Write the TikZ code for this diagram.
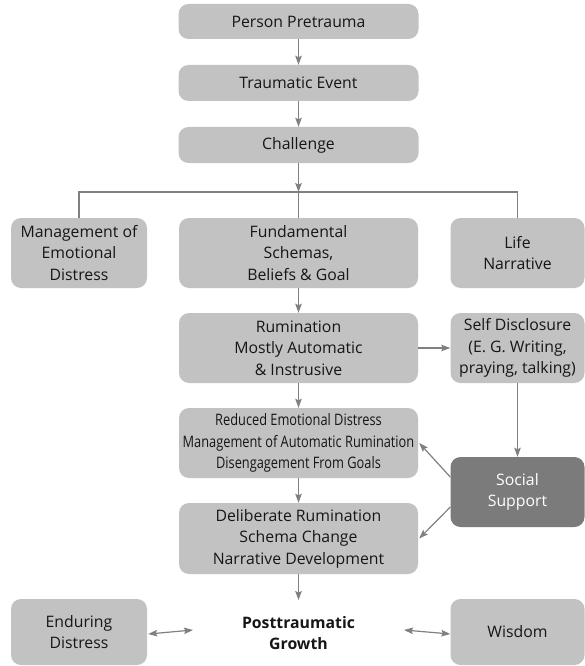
\documentclass[tikz,border=0pt]{standalone}
\usepackage{fontspec}
\setmainfont{Open Sans}
\usetikzlibrary{arrows.meta}
\definecolor{boxgray}{HTML}{C2C2C2}
\definecolor{darkbox}{HTML}{7B7B7B}
\definecolor{linegray}{HTML}{808080}
\definecolor{txt}{HTML}{161616}
\tikzset{
  box/.style={draw=none, fill=boxgray, rounded corners=10pt, inner sep=0pt, align=center,
    text=txt, font=\fontsize{15.8}{21.5}\selectfont},
  midbox/.style={box, minimum width=239pt, minimum height=70pt},
  sidebox/.style={box, minimum width=134pt, minimum height=70pt},
  conn/.style={draw=linegray, line width=1.2pt},
  arr/.style={conn, -{Stealth[length=9pt,width=6.5pt,inset=1.5pt]}},
  darr/.style={conn, {Stealth[length=9pt,width=6.5pt,inset=1.5pt]}-{Stealth[length=9pt,width=6.5pt,inset=1.5pt]}},
}
\begin{document}
\begin{tikzpicture}[x=1pt,y=-1pt]
\useasboundingbox (0,0) rectangle (585,666);
% top chain
\node[box, minimum width=240pt, minimum height=35pt] (pp) at (298.5,21.5) {Person Pretrauma};
\node[box, minimum width=240pt, minimum height=36pt] (te) at (298.5,83) {Traumatic Event};
\node[box, minimum width=240pt, minimum height=36pt] (ch) at (298.5,145) {Challenge};
% row 2
\node[sidebox, minimum width=136pt] (mg) at (79,253) {Management of\\Emotional\\Distress};
\node[midbox] (fs) at (298.5,253) {Fundamental\\Schemas,\\Beliefs \& Goal};
\node[sidebox] (ln) at (517.5,253) {Life\\Narrative};
% row 3
\node[midbox] (ru) at (298.5,348) {Rumination\\Mostly Automatic\\\& Instrusive};
\node[sidebox] (sd) at (517.5,348) {Self Disclosure\\(E. G. Writing,\\praying, talking)};
% row 4
\node[midbox] (rd) at (298.5,443) {\scalebox{0.81}[1]{Reduced Emotional Distress}\\\scalebox{0.81}[1]{Management of Automatic Rumination}\\\scalebox{0.81}[1]{Disengagement From Goals}};
\node[sidebox, fill=darkbox, text=white] (ss) at (517.5,492) {Social\\Support};
% row 5
\node[midbox, minimum height=71pt] (dr) at (298.5,538.5) {Deliberate Rumination\\Schema Change\\Narrative Development};
% bottom
\node[sidebox, minimum width=136pt, minimum height=66pt] (ed) at (79,632) {Enduring\\Distress};
\node[align=center, inner sep=0pt, text=txt, font=\fontsize{15.8}{21.5}\selectfont\bfseries] (pg) at (298.5,633) {Posttraumatic\\Growth};
\node[sidebox, minimum height=66pt] (wi) at (517.5,632) {Wisdom};
% coordinates
\coordinate (j) at (298.5,192);
\coordinate (pgtop) at (298.5,600);
\coordinate (dl) at (193,630);
\coordinate (dr2) at (404,630);
% connectors
\draw[arr] (pp) -- (te);
\draw[arr] (te) -- (ch);
\draw[arr] (ch) -- (j);
\draw[conn] (mg.north) |- (j) -| (ln.north);
\draw[conn] (j) -- (fs.north);
\draw[arr] (fs) -- (ru);
\draw[arr] (ru) -- (sd);
\draw[arr] (ru) -- (rd);
\draw[arr] (sd) -- (ss);
\draw[arr] ([yshift=15pt]ss.west) -- ([xshift=1pt]rd.east);
\draw[arr] ([yshift=-15pt]ss.west) -- ([xshift=1pt]dr.east);
\draw[arr] (rd) -- (dr);
\draw[arr] (dr) -- (pgtop);
\draw[darr] ([xshift=1pt,yshift=-2pt]ed.east) -- (dl);
\draw[darr] (dr2) -- ([yshift=-2pt]wi.west);
\end{tikzpicture}
\end{document}
